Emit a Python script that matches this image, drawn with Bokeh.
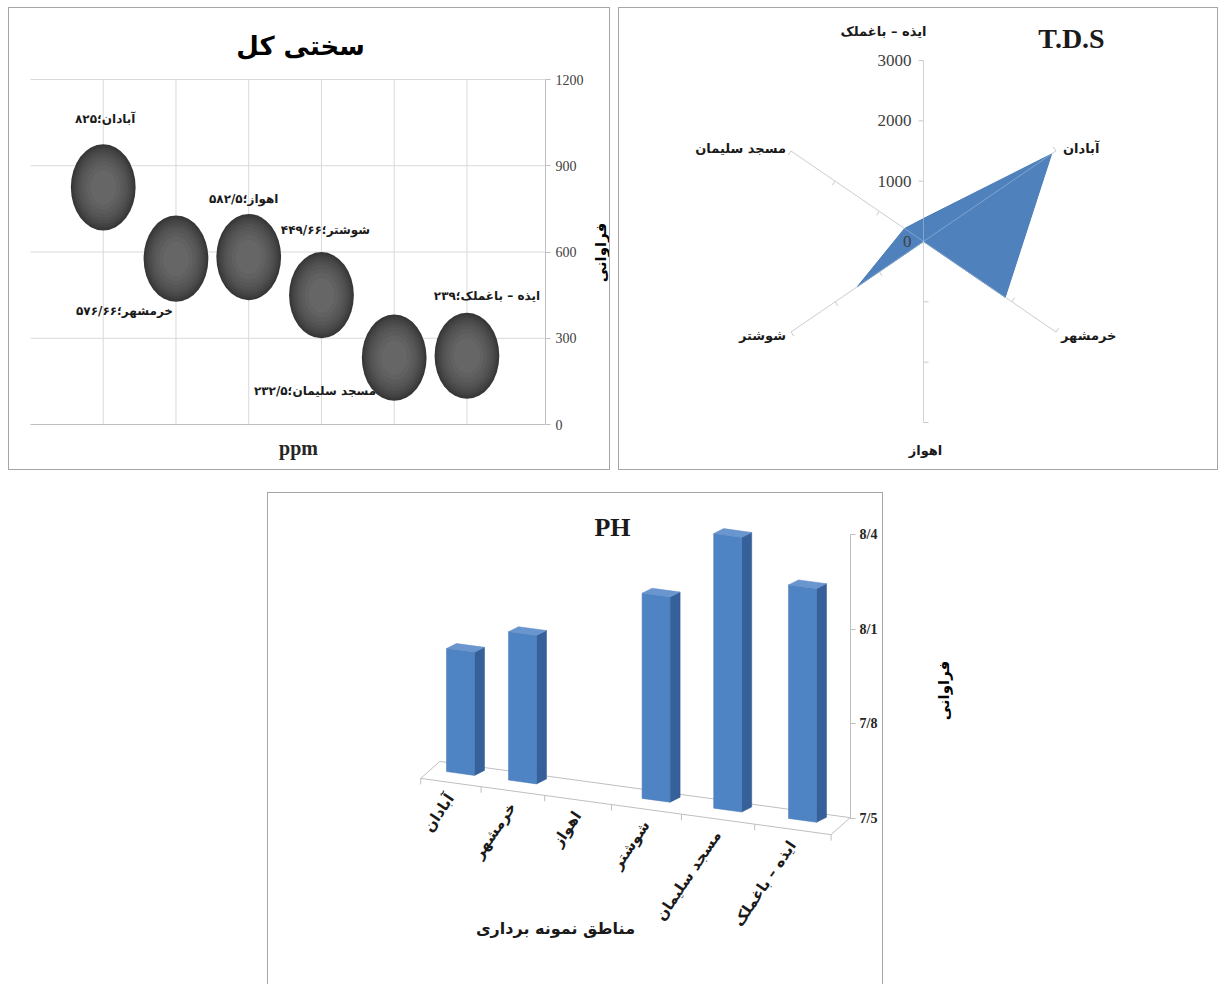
import math

from bokeh.core.properties import value
from bokeh.embed import file_html
from bokeh.layouts import column, row
from bokeh.models import FixedTicker, LinearAxis, Range1d, Spacer
from bokeh.plotting import figure
from bokeh.resources import INLINE

# sampling regions, shared by the three charts
regions = ["آبادان", "خرمشهر", "اهواز", "شوشتر", "مسجد سلیمان", "ایذه – باغملک"]

# total hardness (ppm)
hardness = [825, 576.66, 582.5, 449.66, 232.5, 239]
hardness_ticks = [0, 300, 600, 900, 1200]

# total dissolved solids
tds = [2900, 1850, 0, 1500, 430, 380]
tds_ticks = [0, 1000, 2000, 3000]

# pH (no sample for Ahvaz)
ph = [7.89, 7.97, None, 8.15, 8.37, 8.24]
ph_ticks = [7.5, 7.8, 8.1, 8.4]

FA_DIGITS = str.maketrans("0123456789.", "۰۱۲۳۴۵۶۷۸۹/")


def fa_number(v):
    return f"{v:g}".translate(FA_DIGITS)


FA_FONT = "DejaVu Sans"
SERIF = "Liberation Serif"
BORDER = "1px solid #a6a6a6"
GRID = "#d9d9d9"
AXIS = "#bfbfbf"
TEXT_DARK = "#404040"
INK = "#1a1a1a"


def style_axis(ax):
    ax.axis_line_color = AXIS
    ax.major_tick_line_color = AXIS
    ax.minor_tick_line_color = None
    ax.major_tick_in = 0
    ax.major_tick_out = 5


def bare_figure(w, h, xr, yr, **kw):
    p = figure(width=w, height=h, x_range=Range1d(*xr), y_range=Range1d(*yr),
               x_axis_location=None, y_axis_location=None, min_border=0,
               output_backend="svg", toolbar_location=None, **kw)
    p.outline_line_color = None
    p.grid.visible = False
    return p


# ---------------------------------------------------------------- hardness bubbles
W1, H1 = 602, 463              # canvas; page origin of the canvas is (9, 8)
ORG1 = (9, 8)
X1_MAX = 7.08
k1x, k1y = 72.74, 0.2875       # pixels per x unit / per ppm
Y1_MAX = hardness_ticks[-1]
x1_start = -(30 - ORG1[0]) / k1x
y1_top = (424 - ORG1[1]) / k1y

p1 = bare_figure(W1, H1, (x1_start, x1_start + W1 / k1x), (y1_top - H1 / k1y, y1_top),
                 styles={"border": BORDER})


def p1_pos(sx, sy):
    return x1_start + (sx - ORG1[0]) / k1x, y1_top - (sy - ORG1[1]) / k1y


xs = list(range(1, len(regions) + 1))
# gridlines limited to the plotting box
p1.segment(x0=xs, y0=[0] * len(xs), x1=xs, y1=[Y1_MAX] * len(xs), line_color=GRID)
gy = hardness_ticks[1:]
p1.segment(x0=[0] * len(gy), y0=gy, x1=[X1_MAX] * len(gy), y1=gy, line_color=GRID)

xaxis1 = LinearAxis(fixed_location=0, bounds=(0, X1_MAX), ticker=FixedTicker(ticks=[]))
style_axis(xaxis1)
p1.add_layout(xaxis1, "below")

yaxis1 = LinearAxis(fixed_location=X1_MAX, bounds=(0, Y1_MAX),
                    ticker=FixedTicker(ticks=hardness_ticks))
style_axis(yaxis1)
yaxis1.major_label_text_font = SERIF
yaxis1.major_label_text_font_size = "14px"
yaxis1.major_label_text_color = TEXT_DARK
yaxis1.major_label_standoff = 5
p1.add_layout(yaxis1, "right")

# data labels "name؛value", placed around each bubble (pixel offsets)
lbl_dx = [2, -3, -5, 4, -18, 20]
lbl_dy = [-68, 52, -58, -65, 33, -60]
lbl_align = ["center", "right", "center", "center", "right", "center"]
for x, v, r, dx, dy, al in zip(xs, hardness, regions, lbl_dx, lbl_dy, lbl_align):
    p1.text(x=[x + dx / k1x], y=[v - dy / k1y], text=[f"{r}؛{fa_number(v)}"],
            text_align=al, text_baseline="middle", text_font=value(FA_FONT),
            text_font_size="12px", text_font_style="bold", text_color=INK)

# shaded bubbles: concentric ellipses from the dark rim to a lighter core
bubble_w, bubble_h = 0.89, 300
shade_scales = [1.0, 0.965, 0.925, 0.88, 0.83, 0.77, 0.70, 0.62, 0.52, 0.40]
shade_lo, shade_hi = 0x36, 0x66
for n, scale in enumerate(shade_scales):
    g = round(shade_lo + (shade_hi - shade_lo) * n / (len(shade_scales) - 1))
    p1.ellipse(x=xs, y=hardness, width=bubble_w * scale, height=bubble_h * scale,
               fill_color=f"#{g:02x}{g:02x}{g:02x}", line_color=None)

tx, ty = p1_pos(300, 45)
p1.text(x=[tx], y=[ty], text=["سختی کل"], text_align="center", text_baseline="middle",
        text_font=value(FA_FONT), text_font_size="26px", text_font_style="bold",
        text_color="black")
tx, ty = p1_pos(298, 447)
p1.text(x=[tx], y=[ty], text=["ppm"], text_align="center", text_baseline="middle",
        text_font=value(SERIF), text_font_size="20px", text_font_style="bold",
        text_color="#262626")
tx, ty = p1_pos(600, 252)
p1.text(x=[tx], y=[ty], text=["فراوانی"], angle=math.pi / 2, text_align="center",
        text_baseline="middle", text_font=value(FA_FONT), text_font_size="15px",
        text_font_style="bold", text_color="black")

# ---------------------------------------------------------------- T.D.S radar
W2, H2 = 600, 463
CX2, CY2 = 304, 233          # radar centre inside the canvas
R2X, R2Y = 153, 181          # pixel radius of the outer ring
TDS_MAX = tds_ticks[-1]
k2x, k2y = R2X / TDS_MAX, R2Y / TDS_MAX

p2 = bare_figure(W2, H2, (-CX2 / k2x, (W2 - CX2) / k2x), (-(H2 - CY2) / k2y, CY2 / k2y),
                 styles={"border": BORDER})

angles = [math.radians(60 * (k + 1)) for k in range(len(regions))]
ends_x = [TDS_MAX * math.sin(a) for a in angles]
ends_y = [TDS_MAX * math.cos(a) for a in angles]

spoke_color = "#c8c8c8"
p2.segment(x0=[0] * len(angles), y0=[0] * len(angles), x1=ends_x, y1=ends_y,
           line_color=spoke_color, line_width=1)

# small perpendicular ticks on every spoke
tick_x0, tick_y0, tick_x1, tick_y1 = [], [], [], []
for a in angles:
    ux, uy = math.sin(a) * R2X, math.cos(a) * R2Y
    n = math.hypot(ux, uy)
    px, py = -uy / n * 5, ux / n * 5
    for t in tds_ticks[1:]:
        bx, by = t * math.sin(a), t * math.cos(a)
        tick_x0.append(bx)
        tick_y0.append(by)
        tick_x1.append(bx + px / k2x)
        tick_y1.append(by + py / k2y)
p2.segment(x0=tick_x0, y0=tick_y0, x1=tick_x1, y1=tick_y1, line_color=spoke_color)

poly_x = [v * math.sin(a) for v, a in zip(tds, angles)]
poly_y = [v * math.cos(a) for v, a in zip(tds, angles)]
p2.patch(x=poly_x, y=poly_y, fill_color="#4f81bd", line_color="#4a7cb8", line_width=1)
p2.segment(x0=[0] * len(angles), y0=[0] * len(angles), x1=ends_x, y1=ends_y,
           line_color="#dfe8f3", line_alpha=0.35, line_width=1)

p2.text(x=[-12 / k2x] * len(tds_ticks), y=tds_ticks, text=[str(t) for t in tds_ticks],
        text_align="right", text_baseline="middle", text_font=value(SERIF),
        text_font_size="17px", text_color=TEXT_DARK)

cat_dx = [7, 5, 2, -5, -5, 3]
cat_dy = [-3, 3, 28, 3, -3, -29]
cat_align = ["left", "left", "center", "right", "right", "right"]
for ex, ey, r, dx, dy, al in zip(ends_x, ends_y, regions, cat_dx, cat_dy, cat_align):
    p2.text(x=[ex + dx / k2x], y=[ey - dy / k2y], text=[r], text_align=al,
            text_baseline="middle", text_font=value(FA_FONT), text_font_size="13px",
            text_font_style="bold", text_color=INK)

p2.text(x=[(452 - CX2) / k2x], y=[(CY2 - 30) / k2y], text=["T.D.S"], text_align="center",
        text_baseline="middle", text_font=value(SERIF), text_font_size="28px",
        text_font_style="bold", text_color=INK)

# ---------------------------------------------------------------- pH 3D columns
W3, H3 = 616, 492
B3_R = 34
k3x, k3y = 60.4, 315.6        # pixels per category step / per pH unit
X3_0 = -192 / k3x             # first column sits 192 px from the left edge
X3_1 = X3_0 + (W3 - B3_R) / k3x
Y3_TOP = ph_ticks[0] + 325 / k3y
Y3_BOT = Y3_TOP - H3 / k3y

p3 = figure(width=W3, height=H3, x_range=Range1d(X3_0, X3_1), y_range=Range1d(Y3_BOT, Y3_TOP),
            x_axis_location=None, y_axis_location="right",
            min_border_left=0, min_border_top=0, min_border_bottom=0, min_border_right=B3_R,
            output_backend="svg", toolbar_location=None,
            styles={"border-top": BORDER, "border-left": BORDER, "border-right": BORDER})
p3.outline_line_color = None
p3.grid.visible = False
p3.yaxis.ticker = FixedTicker(ticks=ph_ticks)
p3.yaxis.bounds = (ph_ticks[0], ph_ticks[-1])
p3.yaxis.major_label_overrides = {t: f"{t:.1f}".replace(".", "/") for t in ph_ticks}
p3.yaxis.major_label_text_font = SERIF
p3.yaxis.major_label_text_font_style = "bold"
p3.yaxis.major_label_text_font_size = "14px"
p3.yaxis.major_label_text_color = "#262626"
p3.yaxis.major_label_standoff = 4
style_axis(p3.yaxis[0])

PERSP = 0.0265                 # column spacing widens towards the viewer
FLOOR0, FLOOR_TILT = 7.6426, 0.02622
HALF_W = 14 / k3x
DEPTH_X, DEPTH_Y = 10 / k3x, 5 / k3y
FRONT_DX, FRONT_DY = -10 / k3x, -9 / k3y
BACK_DX, BACK_DY = 9 / k3x, 8 / k3y


def col_pos(i):
    return i + PERSP * i * i


def floor_at(x):
    return FLOOR0 - FLOOR_TILT * x


# floor plate
xa, xb = col_pos(-0.5), col_pos(len(regions) - 0.5)
p3.patch(x=[xa + FRONT_DX, xb + FRONT_DX, xb + BACK_DX, xa + BACK_DX],
         y=[floor_at(xa) + FRONT_DY, floor_at(xb) + FRONT_DY,
            floor_at(xb) + BACK_DY, floor_at(xa) + BACK_DY],
         fill_color="white", line_color=AXIS, line_width=1)

# category ticks along the front edge
bx = [col_pos(k - 0.5) for k in range(len(regions) + 1)]
p3.segment(x0=[b + FRONT_DX for b in bx], y0=[floor_at(b) + FRONT_DY for b in bx],
           x1=[b + FRONT_DX for b in bx], y1=[floor_at(b) + FRONT_DY - 6 / k3y for b in bx],
           line_color=AXIS)

front_xs, front_ys, side_xs, side_ys, top_xs, top_ys = [], [], [], [], [], []
for i, v in enumerate(ph):
    if v is None:
        continue
    c = col_pos(i)
    xl, xr = c - HALF_W, c + HALF_W
    bl, br = floor_at(xl), floor_at(xr)
    h = v - ph_ticks[0]
    front_xs.append([xl, xr, xr, xl])
    front_ys.append([bl, br, br + h, bl + h])
    side_xs.append([xr, xr + DEPTH_X, xr + DEPTH_X, xr])
    side_ys.append([br, br + DEPTH_Y, br + DEPTH_Y + h, br + h])
    top_xs.append([xl, xr, xr + DEPTH_X, xl + DEPTH_X])
    top_ys.append([bl + h, br + h, br + h + DEPTH_Y, bl + h + DEPTH_Y])

p3.patches(xs=side_xs, ys=side_ys, fill_color="#36609a", line_color="#31588d", line_width=0.5)
p3.patches(xs=front_xs, ys=front_ys, fill_color="#4f84c4", line_color="#4677b3", line_width=0.5)
p3.patches(xs=top_xs, ys=top_ys, fill_color="#6a96cf", line_color="#5d89c2", line_width=0.5)

# rotated category names under the floor
for i, r in enumerate(regions):
    c = col_pos(i)
    p3.text(x=[c + FRONT_DX], y=[floor_at(c) + FRONT_DY - 13 / k3y], text=[r],
            angle=math.radians(56), text_align="right", text_baseline="middle",
            text_font=value(FA_FONT), text_font_size="15px", text_font_style="bold",
            text_color=INK)


def p3_pos(sx, sy):
    return X3_0 + (sx - 268) / k3x, Y3_TOP - (sy - 493) / k3y


tx, ty = p3_pos(612, 527)
p3.text(x=[tx], y=[ty], text=["PH"], text_align="center", text_baseline="middle",
        text_font=value(SERIF), text_font_size="26px", text_font_style="bold",
        text_color=INK)
tx, ty = p3_pos(555, 928)
p3.text(x=[tx], y=[ty], text=["مناطق نمونه برداری"], text_align="center",
        text_baseline="middle", text_font=value(FA_FONT), text_font_size="16px",
        text_font_style="bold", text_color=INK)

# value-axis title standing beside the pH chart
W4, H4 = 100, 493
p4 = bare_figure(W4, H4, (0, W4), (0, H4))
p4.text(x=[60], y=[H4 - 198], text=["فراوانی"], angle=math.pi / 2, text_align="center",
        text_baseline="middle", text_font=value(FA_FONT), text_font_size="15px",
        text_font_style="bold", text_color="black")

top = row(Spacer(width=8, height=465), p1, Spacer(width=8, height=465), p2)
bottom = row(Spacer(width=267, height=493), p3, p4)
page = column(Spacer(width=1226, height=7), top, Spacer(width=1226, height=20), bottom)

open("out.html", "w").write(file_html(page, INLINE))
